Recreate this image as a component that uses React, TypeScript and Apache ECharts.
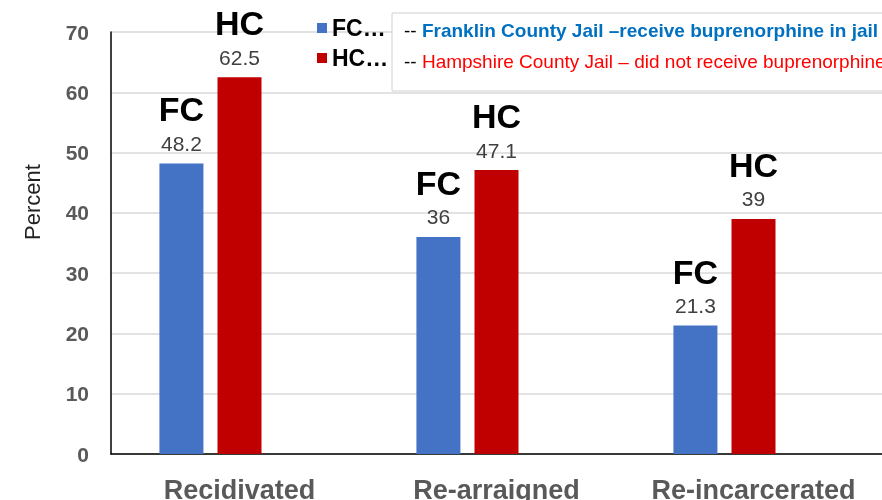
import React, { useEffect, useRef } from "react";
import * as echarts from "echarts";

const categories = ["Recidivated", "Re-arraigned", "Re-incarcerated"];
const fcValues = [48.2, 36, 21.3];
const hcValues = [62.5, 47.1, 39];
const seriesNames = ["FC", "HC"];
const legendLines = [
  "Franklin County Jail \u2013receive buprenorphine in jail",
  "Hampshire County Jail \u2013 did not receive buprenorphine",
];

const FONT = "'Liberation Sans', Arial, sans-serif";

export default function App() {
  const ref = useRef<HTMLDivElement>(null);
  useEffect(() => {
    if (!ref.current) return;
    const chart = echarts.init(ref.current, null, { renderer: "svg" });
    const label = {
      show: true,
      position: "top",
      distance: 8,
      formatter: (p: any) => `{n|${p.seriesName}}\n{v|${p.value}}`,
      rich: {
        n: { fontFamily: FONT, fontSize: 34, fontWeight: "bold", color: "#000", lineHeight: 44, align: "center" },
        v: { fontFamily: FONT, fontSize: 21, color: "#404040", lineHeight: 24, align: "center" },
      },
    };
    chart.setOption({
      animation: false,
      textStyle: { fontFamily: FONT },
      grid: { left: 111, right: 0, top: 32, bottom: 46, containLabel: false, outerBoundsMode: "none" },
      legend: {
        data: seriesNames,
        orient: "vertical",
        left: 317,
        top: 16,
        padding: 0,
        itemWidth: 10,
        itemHeight: 10,
        itemGap: 6,
        icon: "rect",
        formatter: (n: string) => n + "\u2026",
        textStyle: { fontFamily: FONT, fontSize: 23, fontWeight: "bold", color: "#000", lineHeight: 24 },
      },
      xAxis: {
        type: "category",
        data: categories,
        axisLine: { show: true, lineStyle: { color: "#000", width: 1.5 } },
        axisTick: { show: false },
        axisLabel: { interval: 0, fontFamily: FONT, fontSize: 27, fontWeight: "bold", color: "#595959", margin: 22 },
      },
      yAxis: {
        type: "value",
        min: 0,
        max: 70,
        interval: 10,
        axisLine: { show: true, lineStyle: { color: "#000", width: 1.5 } },
        axisTick: { show: false },
        splitLine: { lineStyle: { color: "#d9d9d9", width: 1.5 } },
        axisLabel: { fontFamily: FONT, fontSize: 21, fontWeight: "bold", color: "#595959", margin: 22 },
      },
      series: [
        { name: seriesNames[0], type: "bar", data: fcValues, barWidth: 44, barGap: "32%", itemStyle: { color: "#4472c4" }, label },
        { name: seriesNames[1], type: "bar", data: hcValues, barWidth: 44, barGap: "32%", itemStyle: { color: "#c00000" }, label },
        { name: "", type: "bar", data: [], barWidth: 44, barGap: "32%" },
      ],
      graphic: [
        {
          type: "text",
          x: 32,
          y: 202,
          rotation: Math.PI / 2,
          style: { text: "Percent", fontFamily: FONT, fontSize: 22, fill: "#222", align: "center", verticalAlign: "middle" },
        },
        {
          type: "rect",
          z: 100,
          shape: { x: 392, y: 13, width: 520, height: 78 },
          style: { fill: "#fff", stroke: "#d0d0d0", lineWidth: 1 },
        },
        {
          type: "text",
          z: 101,
          x: 404,
          y: 30,
          style: {
            text: `{d|-- }{b|${legendLines[0]}}`,
            verticalAlign: "middle",
            rich: {
              d: { fontFamily: FONT, fontSize: 19, fill: "#000" },
              b: { fontFamily: FONT, fontSize: 19, fontWeight: "bold", fill: "#0070c0" },
            },
          },
        },
        {
          type: "text",
          z: 101,
          x: 404,
          y: 61,
          style: {
            text: `{d|-- }{r|${legendLines[1]}}`,
            verticalAlign: "middle",
            rich: {
              d: { fontFamily: FONT, fontSize: 19, fill: "#000" },
              r: { fontFamily: FONT, fontSize: 19, fill: "#ff0000" },
            },
          },
        },
      ],
    });
    return () => chart.dispose();
  }, []);
  return <div ref={ref} style={{ position: "fixed", left: 0, top: 0, width: 882, height: 500 }} />;
}
